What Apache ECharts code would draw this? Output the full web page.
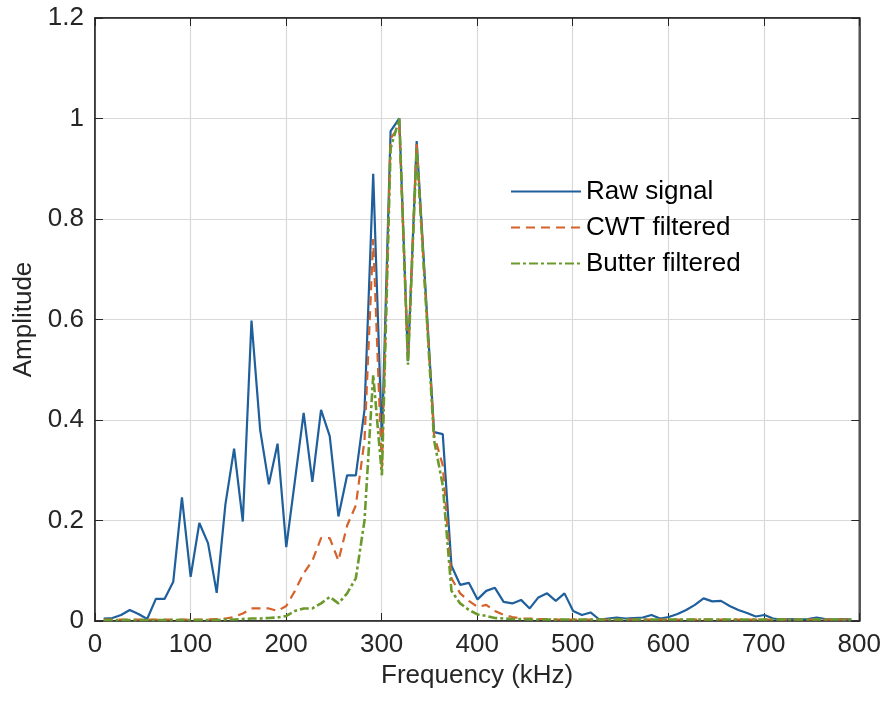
<!DOCTYPE html>
<html>
<head>
<meta charset="utf-8">
<script src="https://cdn.jsdelivr.net/npm/echarts@6/dist/echarts.min.js"></script>
<style>
html,body{margin:0;padding:0;background:#fff;}
#chart{width:884px;height:701px;}
</style>
</head>
<body>
<div id="chart"></div>
<script>
const freq = [9.1,18.2,27.3,36.4,45.5,54.6,63.7,72.8,81.9,91.0,100.1,109.2,118.3,127.4,136.5,145.6,154.7,163.8,172.9,182.0,
191.1,200.2,209.3,218.4,227.5,236.6,245.7,254.8,263.9,273.0,282.1,291.2,300.3,309.4,318.5,327.6,336.7,345.8,354.9,364.0,
373.1,382.2,391.3,400.4,409.5,418.6,427.7,436.8,445.9,455.0,464.1,473.2,482.3,491.4,500.5,509.6,518.7,527.8,536.9,546.0,
555.1,564.2,573.3,582.4,591.5,600.6,609.7,618.8,627.9,637.0,646.1,655.2,664.3,673.4,682.5,691.6,700.7,709.8,718.9,728.0,
737.1,746.2,755.3,764.4,773.5,782.6,791.7];

const rawSignal = [0.005,0.006,0.012,0.022,0.014,0.004,0.044,0.044,0.078,0.246,0.088,0.195,0.155,0.056,0.232,0.343,0.198,0.598,0.38,0.272,
0.353,0.147,0.28,0.414,0.277,0.42,0.368,0.208,0.29,0.29,0.42,0.89,0.36,0.975,1.0,0.517,0.955,0.665,0.376,0.372,
0.11,0.072,0.076,0.043,0.06,0.066,0.038,0.035,0.042,0.025,0.047,0.055,0.04,0.055,0.02,0.012,0.017,0.003,0.005,0.007,
0.005,0.006,0.007,0.012,0.005,0.008,0.014,0.022,0.032,0.045,0.039,0.04,0.03,0.022,0.016,0.009,0.012,0.005,0.003,0.004,
0.003,0.004,0.007,0.004,0.003,0.004,0.003];

const cwtFiltered = [0.003,0.003,0.003,0.003,0.003,0.003,0.003,0.003,0.003,0.003,0.003,0.003,0.003,0.004,0.005,0.008,0.015,0.025,0.025,0.025,
0.02,0.03,0.06,0.095,0.12,0.165,0.165,0.12,0.19,0.23,0.36,0.76,0.3,0.96,0.985,0.52,0.95,0.655,0.37,0.31,
0.085,0.055,0.04,0.028,0.032,0.02,0.012,0.008,0.005,0.005,0.004,0.004,0.003,0.003,0.003,0.003,0.003,0.003,0.003,0.003,
0.003,0.003,0.003,0.003,0.003,0.003,0.003,0.003,0.003,0.003,0.003,0.003,0.003,0.003,0.003,0.003,0.003,0.003,0.003,0.003,
0.003,0.003,0.003,0.003,0.003,0.003,0.003];

const butterFiltered = [0.002,0.002,0.002,0.002,0.002,0.002,0.002,0.002,0.002,0.002,0.002,0.002,0.002,0.002,0.003,0.003,0.004,0.005,0.005,0.006,
0.007,0.01,0.02,0.025,0.025,0.035,0.048,0.035,0.055,0.085,0.2,0.49,0.29,0.94,1.0,0.51,0.94,0.65,0.36,0.27,
0.06,0.035,0.022,0.013,0.01,0.006,0.005,0.004,0.004,0.003,0.003,0.003,0.003,0.003,0.003,0.003,0.003,0.003,0.003,0.003,
0.003,0.003,0.003,0.003,0.003,0.003,0.003,0.003,0.003,0.003,0.003,0.003,0.003,0.003,0.003,0.003,0.003,0.003,0.003,0.003,
0.003,0.003,0.003,0.003,0.003,0.003,0.003];

const seriesNames = ['Raw signal','CWT filtered','Butter filtered'];
const xTicks = [0,100,200,300,400,500,600,700,800];
const yTicks = [0,0.2,0.4,0.6,0.8,1,1.2];

const pairs = arr => freq.map((f,i)=>[f,arr[i]]);
const FONT = '"Liberation Sans", Arial, sans-serif';
const FS = 26;

const chart = echarts.init(document.getElementById('chart'), null, {renderer:'canvas'});
const tickInside = {show:true, inside:true, length:8, lineStyle:{color:'#262626', width:1}};
chart.setOption({
  backgroundColor:'#ffffff',
  animation:false,
  grid:{left:95, right:24, top:18, bottom:80, show:true, borderColor:'#262626', borderWidth:1.5, backgroundColor:'#fff'},
  legend:{
    orient:'vertical', left:505, top:173, itemWidth:70, itemHeight:14, itemGap:9,
    data:seriesNames,
    itemStyle:{color:'rgba(0,0,0,0)', borderColor:'rgba(0,0,0,0)', borderWidth:0},
    textStyle:{fontFamily:FONT, fontSize:FS, lineHeight:27, color:'#000'},
    backgroundColor:'transparent'
  },
  xAxis:[{
    type:'value', min:xTicks[0], max:xTicks[xTicks.length-1], interval:100, position:'bottom',
    name:'Frequency (kHz)', nameLocation:'middle', nameGap:39,
    nameTextStyle:{fontFamily:FONT, fontSize:FS, color:'#262626'},
    axisLine:{show:true, onZero:false, lineStyle:{color:'#262626', width:1.5}},
    axisTick:tickInside,
    axisLabel:{fontFamily:FONT, fontSize:FS, color:'#262626', margin:11},
    splitLine:{show:true, lineStyle:{color:'#d9d9d9', width:1.2}}
  },{
    type:'value', min:xTicks[0], max:xTicks[xTicks.length-1], interval:100, position:'top',
    axisLine:{show:true, onZero:false, lineStyle:{color:'#262626', width:1.5}},
    axisTick:tickInside, axisLabel:{show:false}, splitLine:{show:false}
  }],
  yAxis:[{
    type:'value', min:yTicks[0], max:yTicks[yTicks.length-1], interval:0.2, position:'left',
    name:'Amplitude', nameLocation:'middle', nameGap:50, nameRotate:90,
    nameTextStyle:{fontFamily:FONT, fontSize:FS, color:'#262626'},
    axisLine:{show:true, onZero:false, lineStyle:{color:'#262626', width:1.5}},
    axisTick:tickInside,
    axisLabel:{fontFamily:FONT, fontSize:FS, color:'#262626', margin:11,
      formatter:v=>String(Math.round(v*10)/10)},
    splitLine:{show:true, lineStyle:{color:'#d9d9d9', width:1.2}}
  },{
    type:'value', min:yTicks[0], max:yTicks[yTicks.length-1], interval:0.2, position:'right',
    axisLine:{show:true, onZero:false, lineStyle:{color:'#262626', width:1.5}},
    axisTick:tickInside, axisLabel:{show:false}, splitLine:{show:false}
  }],
  series:[
    {name:seriesNames[0], type:'line', data:pairs(rawSignal), symbol:'none',
     lineStyle:{color:'#1f5f9c', width:2.2, type:'solid'}, itemStyle:{color:'#1f5f9c'}},
    {name:seriesNames[1], type:'line', data:pairs(cwtFiltered), symbol:'none',
     lineStyle:{color:'#d5622a', width:2.2, type:[9,6]}, itemStyle:{color:'#d5622a'}},
    {name:seriesNames[2], type:'line', data:pairs(butterFiltered), symbol:'none',
     lineStyle:{color:'#6b9a2c', width:2.6, type:[9,3,3,3]}, itemStyle:{color:'#6b9a2c'}}
  ]
});
</script>
</body>
</html>
